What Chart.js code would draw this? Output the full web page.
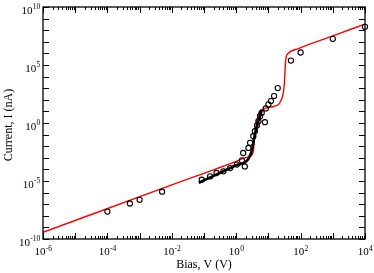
<!DOCTYPE html>
<html><head><meta charset="utf-8">
<script src="https://cdn.jsdelivr.net/npm/chart.js@4/dist/chart.umd.min.js"></script>
<style>html,body{margin:0;padding:0;background:#fff}canvas{display:block}</style>
</head><body>
<canvas id="c" width="374" height="273"></canvas>
<script>
// Measured data (open circles)
const measV = [1e-4, 5e-4, 1e-3, 5e-3, 0.085, 0.155, 0.245, 0.40, 0.65, 1.05, 1.5, 1.85, 1.65, 2.4, 2.7, 3.4, 3.8, 4.4, 4.9, 7.8, 5.5, 6.2, 8.3, 10, 12, 15, 19.5, 50, 100, 1000, 10000];
const measI = [2.3e-8, 1.15e-7, 2.4e-7, 1.2e-6, 1.3e-5, 2.5e-5, 4.9e-5, 6.8e-5, 1.3e-4, 2.6e-4, 6.0e-4, 1.8e-4, 2.6e-3, 7.1e-3, 0.0195, 0.072, 0.195, 0.6, 1.45, 1.17, 3.9, 7.6, 18, 40, 78, 210, 1020, 2.4e5, 1.2e6, 1.8e7, 1.95e8];
// Model fit (red line)
const fitV = [1e-6, 1e-2, 1.0, 1.86, 2.7, 3.4, 3.8, 4.9, 5.5, 7.8, 15.8, 22.9, 30.9, 34.7, 41.7, 85, 1000, 10000];
const fitI = [3.8e-10, 4.6e-6, 5.0e-4, 1.0e-3, 1.35e-3, 3.6e-3, 0.14, 5.5, 10, 18, 28, 59, 1550, 3.2e5, 1.05e6, 2.6e6, 3.2e7, 3.4e8];
// Continuous measured sweep (thick black line)
const sweepV = [0.069, 0.32, 1.0, 2.3, 3.1, 3.8, 6.3];
const sweepI = [7.1e-6, 5.1e-5, 2.3e-4, 6.9e-4, 5.1e-3, 0.1, 14.8];
// Axis ranges / labels
const xExpMin = -6, xExpMax = 4, xLabelExps = [-6, -4, -2, 0, 2, 4];
const yExpMin = -10, yExpMax = 10, yLabelExps = [-10, -5, 0, 5, 10];
const xTitle = 'Bias, V (V)';
const yTitle = 'Current, I (nA)';

const zip = (a, b) => a.map((v, i) => ({x: v, y: b[i]}));
const SERIF = '"Liberation Serif", "DejaVu Serif", serif';

function drawPow(ctx, exp, x, baseY, align) {
  const base = '10', sup = String(exp);
  ctx.font = '11px ' + SERIF;
  const wb = ctx.measureText(base).width;
  ctx.font = '7.5px ' + SERIF;
  const ws = ctx.measureText(sup).width;
  const tot = wb + ws;
  let x0 = align === 'center' ? x - tot / 2 : x - tot;
  ctx.textAlign = 'left';
  ctx.textBaseline = 'alphabetic';
  ctx.font = '11px ' + SERIF;
  ctx.fillText(base, x0, baseY);
  ctx.font = '7.5px ' + SERIF;
  ctx.fillText(sup, x0 + wb + 0.3, baseY - 4.5);
}

const axesPlugin = {
  id: 'axesPlugin',
  afterDraw(chart) {
    const {ctx, chartArea: a, scales: {x, y}} = chart;
    ctx.save();
    ctx.strokeStyle = '#000';
    ctx.fillStyle = '#000';
    ctx.lineWidth = 1;
    const seg = (x1, y1, x2, y2) => { ctx.beginPath(); ctx.moveTo(x1, y1); ctx.lineTo(x2, y2); ctx.stroke(); };
    for (let e = xExpMin; e <= xExpMax; e++) {
      for (let m = 1; m <= 9; m++) {
        const v = m * Math.pow(10, e);
        if (e === xExpMax && m > 1) break;
        const px = Math.round(x.getPixelForValue(v)) + 0.5;
        const len = m === 1 ? 6 : 3;
        seg(px, a.bottom, px, a.bottom - len);
        seg(px, a.top, px, a.top + len);
      }
    }
    for (let e = yExpMin; e <= yExpMax; e++) {
      const py = Math.round(y.getPixelForValue(Math.pow(10, e))) + 0.5;
      seg(a.left, py, a.left + 6, py);
      seg(a.right, py, a.right - 6, py);
    }
    ctx.lineWidth = 1.3;
    ctx.strokeRect(a.left, a.top, a.right - a.left, a.bottom - a.top);
    xLabelExps.forEach(e => drawPow(ctx, e, x.getPixelForValue(Math.pow(10, e)), a.bottom + 16, 'center'));
    yLabelExps.forEach(e => drawPow(ctx, e, a.left - 3, y.getPixelForValue(Math.pow(10, e)) + 6.5, 'right'));
    ctx.font = '12px ' + SERIF;
    ctx.textAlign = 'center';
    ctx.textBaseline = 'alphabetic';
    ctx.fillText(xTitle, (a.left + a.right) / 2, 268);
    ctx.save();
    ctx.translate(11.5, (a.top + a.bottom) / 2 + 2);
    ctx.rotate(-Math.PI / 2);
    ctx.fillText(yTitle, 0, 0);
    ctx.restore();
    ctx.restore();
  }
};

new Chart(document.getElementById('c'), {
  type: 'scatter',
  data: {
    datasets: [
      {label: 'sweep', data: zip(sweepV, sweepI), showLine: true, borderColor: '#000', borderWidth: 2.6, pointRadius: 0, order: 0, cubicInterpolationMode: 'monotone'},
      {label: 'meas', data: zip(measV, measI), showLine: false, clip: 6, borderColor: '#000', backgroundColor: 'rgba(0,0,0,0)', borderWidth: 1.1, pointRadius: 2.6, pointStyle: 'circle', order: 1},
      {label: 'fit', data: zip(fitV, fitI), showLine: true, borderColor: '#ff0000', borderWidth: 1.4, pointRadius: 0, order: 2, cubicInterpolationMode: 'monotone'}
    ]
  },
  options: {
    responsive: false,
    animation: false,
    devicePixelRatio: 1,
    layout: {padding: {left: 43, right: 9, top: 7, bottom: 34}},
    plugins: {legend: {display: false}, tooltip: {enabled: false}},
    scales: {
      x: {type: 'logarithmic', display: false, min: Math.pow(10, xExpMin), max: Math.pow(10, xExpMax)},
      y: {type: 'logarithmic', display: false, min: Math.pow(10, yExpMin), max: Math.pow(10, yExpMax)}
    }
  },
  plugins: [axesPlugin]
});
</script>
</body></html>
